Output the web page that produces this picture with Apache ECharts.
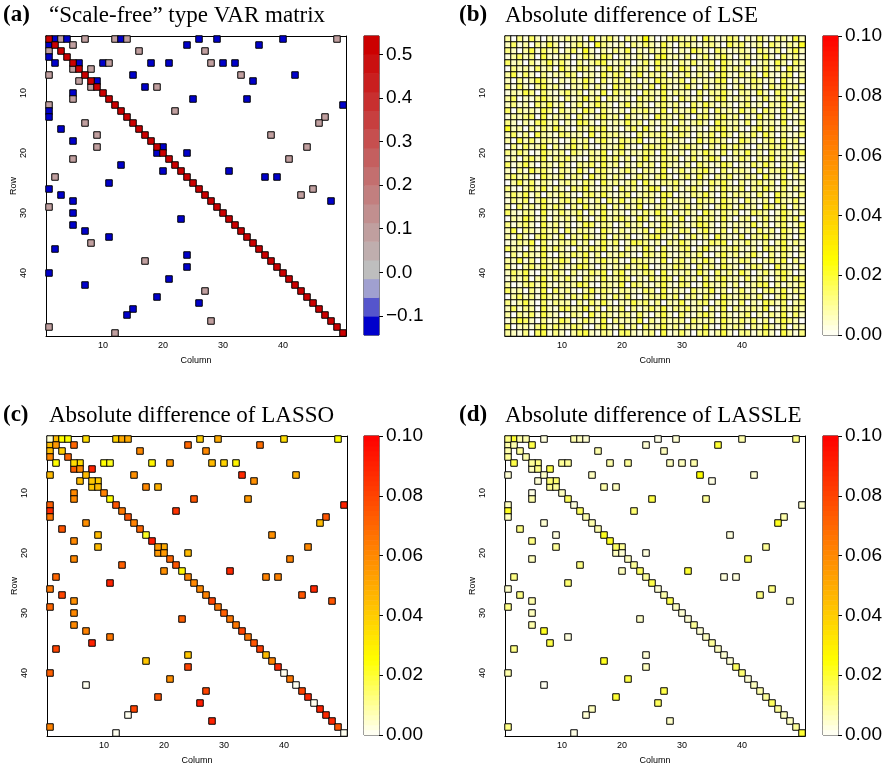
<!DOCTYPE html>
<html>
<head>
<meta charset="utf-8">
<script src="https://cdn.jsdelivr.net/npm/echarts@6/dist/echarts.min.js"></script>
<style>
  html, body { margin: 0; padding: 0; background: #fff; }
  #chart { width: 890px; height: 772px; }
</style>
</head>
<body>
<div id="chart"></div>
<script>
// matrix indices 1..50 (rows and columns)
const cells = Array.from({ length: 50 }, (_, i) => String(i + 1));
const tickAt = [10, 20, 30, 40, 50];
const labelAt = [10, 20, 30, 40];
const sfTicks = [-0.1, 0, 0.1, 0.2, 0.3, 0.4, 0.5];
const heatTicks = [0, 0.02, 0.04, 0.06, 0.08, 0.1];

// off-diagonal non-zero entries of the VAR matrix (row, column)
const offRow = [1,1,1,1,1,1,1,1,1,1,1, 2,2,2,2, 3,3,3, 4, 5,5,5,5,5,5,5,5,5, 6,6, 7,7,7,7, 8,8,8, 9,9,9, 10,
  11,11,11, 12,12, 13,13, 14,14, 15,15, 16, 17,17, 18, 19,19,19, 20,20, 21,21, 22, 23,23, 24,24,24, 25,
  26,26, 27,27, 28,28, 29,30,31,32,33,34,35,36,37,38,39,40,41,42,43,44,45,46,47,48,49,50];
const offCol = [2,3,4,7,12,13,14,26,29,40,49, 1,5,24,36, 1,16,27, 1, 2,6,10,11,18,21,28,30,32, 5,8, 1,15,33,42, 6,9,35, 8,17,19, 5,
  5,25,34, 1,50, 1,22, 1,47, 7,46, 3, 9,38, 5, 9,20,44, 19,24, 5,41, 13, 20,31, 2,37,39, 11,
  1,45, 3,43, 5,48, 1,5,23,5,7,11,8,2,24,17,24,1,21,7,27,19,26,15,14,28,1,12];

const sfOff = [-0.12,0.09,-0.12,0.09,0.09,-0.12,0.09,-0.12,-0.12,-0.12,0.09, -0.12,0.09,-0.12,-0.12, 0.09,0.09,0.09, -0.12,
  -0.12,-0.12,-0.12,0.09,-0.12,-0.12,0.09,-0.12,-0.12, 0.09,0.09, 0.09,-0.12,0.09,-0.12, 0.09,-0.12,-0.12, 0.09,-0.12,0.09, -0.12,
  0.09,-0.12,-0.12, 0.09,-0.12, -0.12,0.09, -0.12,0.09, 0.09,0.09, -0.12, 0.09,0.09, -0.12, 0.09,-0.12,0.09, -0.12,-0.12, 0.09,0.09, -0.12,
  -0.12,-0.12, 0.09,-0.12,-0.12, -0.12, -0.12,0.09, -0.12,0.09, -0.12,-0.12,
  0.09,-0.12,-0.12,-0.12,-0.12,-0.12,0.09,-0.12,-0.12,0.09,-0.12,-0.12,-0.12,-0.12,0.09,-0.12,-0.12,-0.12,-0.12,0.09,0.09,0.09];
const lassoOff = [0.045,0.025,0.025,0.035,0.038,0.05,0.05,0.04,0.05,0.035,0.025, 0.045,0.07,0.07,0.068, 0.045,0.06,0.06, 0.06,
  0.025,0.035,0.025,0.022,0.028,0.055,0.045,0.038,0.028, 0.072,0.09, 0.045,0.058,0.088,0.048, 0.045,0.04,0.058, 0.042,0.06,0.048, 0.06,
  0.06,0.075,0.055, 0.072,0.09, 0.088,0.085, 0.065,0.075, 0.058,0.045, 0.075, 0.045,0.058, 0.06, 0.045,0.05,0.06, 0.055,0.045, 0.06,0.062, 0.072,
  0.058,0.088, 0.07,0.062,0.062, 0.09, 0.065,0.088, 0.08,0.075, 0.058,0.075,
  0.07,0.06,0.072,0.06,0.062,0.065,0.09,0.08,0.042,0.042,0.08,0.072,0.058,0.001,0.08,0.075,0.092,0.08,0.001,0.09,0.062,0.001];
const lassleOff = [0.02,0.008,0.008,0.003,0.008,0.006,0.004,0.002,0.004,0.008,0.012, 0.008,0.018,0.004,0.02, 0.008,0.008,0.006, 0.01,
  0.018,0.012,0.01,0.01,0.008,0.01,0.006,0.006,0.008, 0.006,0.018, 0.004,0.006,0.025,0.004, 0.004,0.014,0.002, 0.01,0.008,0.006, 0.002,
  0.008,0.018,0.01, 0.006,0.005, 0.022,0.014, 0.006,0.008, 0.004,0.022, 0.012, 0.003,0.003, 0.012, 0.01,0.01,0.01, 0.006,0.003, 0.006,0.016, 0.012,
  0.006,0.02, 0.012,0.003,0.003, 0.014, 0.005,0.012, 0.012,0.012, 0.008,0.006,
  0.012,0.006,0.005,0.008,0.022,0.003,0.018,0.012,0.004,0.022,0.006,0.008,0.018,0.001,0.018,0.02,0.016,0.006,0.004,0.005,0.012,0.002];

// diagonal entries 1..50
const sfDiag = [0.52,0.52,0.52,0.52,0.52,0.52,0.52,0.52,0.52,0.52, 0.52,0.52,0.52,0.52,0.52,0.52,0.52,0.52,0.52,0.52,
  0.52,0.52,0.52,0.52,0.52,0.52,0.52,0.52,0.52,0.52, 0.52,0.52,0.52,0.52,0.52,0.52,0.52,0.52,0.52,0.52,
  0.52,0.52,0.52,0.52,0.52,0.52,0.52,0.52,0.52,0.52];
const lassoDiag = [0.004,0.055,0.04,0.07,0.035,0.06,0.045,0.042,0.045,0.062, 0.025,0.075,0.065,0.075,0.062,0.07,0.022,0.092,0.055,0.055,
  0.07,0.075,0.028,0.06,0.06,0.06,0.062,0.08,0.065,0.072, 0.065,0.065,0.08,0.065,0.075,0.082,0.045,0.062,0.088,0.001,
  0.065,0.001,0.08,0.088,0.001,0.09,0.088,0.088,0.075,0.001];
const lassleDiag = [0.012,0.008,0.01,0.008,0.01,0.012,0.005,0.014,0.01,0.006, 0.016,0.003,0.016,0.008,0.008,0.008,0.022,0.022,0.016,0.004,
  0.006,0.01,0.016,0.01,0.018,0.004,0.008,0.018,0.006,0.004, 0.004,0.01,0.004,0.006,0.01,0.006,0.004,0.004,0.016,0.014,
  0.004,0.006,0.008,0.01,0.016,0.01,0.006,0.006,0.01,0.02];

// LSE absolute differences, one string per row, digit d -> d * 0.003
const lseRows = [
  "30415203124230613520413820145324063125403152043162",
  "25130426301352074213042531620452134206351240531427",
  "42036152403517203142603142520316420531242053140362",
  "13524062134025316402314205723140251362034136205241",
  "52304136252041356123402516320425134063125024163053",
  "04231524063154203625124305231640325162430325140632",
  "36152041325402316254036142503251420362153406214503",
  "20413652031426305142520316432504132560312541306214",
  "41520362410325142063324150621362051340251430526340",
  "13264052135240316052410532614320514362043162054213",
  "35021463204136250431205341620531402561324025136051",
  "24130536240251364203614203524105263142035130426314",
  "50423164052316405213043521604236140523162405316042",
  "13245061324052136240521306431520451362403162405213",
  "42031562403165204132624031520413520642315042316025",
  "72304152631042536120351620425341203562410362514203",
  "25140632154230615342105243612530425163042516304125",
  "30625143201524036215436012543201625430164203516240",
  "04152360413625104236210453621453204162531042536132",
  "42530163240531426035132540621304263150426130524316",
  "13045261435210436251403621534025136401253042615203",
  "51362043152043516240315240632140531264021526304251",
  "20416352043162045213520431602513462051342051436240",
  "35241063251430625142025314620351620435124306215034",
  "03625142034215306241350621435202415362041352406213",
  "41035261420536214305241365024135204163250426315142",
  "25361403253104526213502431650214362051433152064215",
  "14250362145263140526135240613420534163205214063251",
  "30524162530416235041426013521351420364152306415042",
  "52143061252350416132031526405242063152401543026314",
  "03264150324152036245316402531602534162034025136250",
  "41352062413026514302524031642313652041322614035126",
  "26043152405143206314132504621540362150413152406315",
  "31520463150426315042401356214025140632150436215204",
  "12436051243514026250265413042631025460325214036142",
  "53204162531042536130421630512450362143521305426314",
  "04153261042536140325310542621342510362413620415203",
  "32614052364025136241054321603514263051254103526041",
  "41035263141365204132524601325430524163202541063215",
  "25361042530412536046132540613241630524163025146302",
  "14250361425204316235403152640523051462315142036254",
  "30145262132365104326054213621540163251402356041325",
  "52304160524103625314321540613205236140251304526143",
  "03524163241526304152510243625034152063244251036215",
  "41362051433041526203263514032612450362150316425034",
  "25143062155236140425041352614352304160423426015243",
  "30425163201430625314415203620521463052135031426152",
  "13652041264025316042326041523405324163252514036420",
  "50231462532541036215140523624143261052430426315032",
  "32140561420356214305521340612520451362044135206314"
];

const sfBreaksLo = -0.1437, sfBreaksHi = 0.542;
const sfColors = ['#0000cc', '#5555cc', '#a0a0d0', '#bebebe', '#bfaeae', '#c09f9f', '#c18f8f', '#c27f7f',
  '#c36f6f', '#c45f5f', '#c64f4f', '#c73f3f', '#c82f2f', '#c91f1f', '#ca1010', '#cc0000'];
const heatColors = ['#fffffa', '#ffff80', '#ffff00', '#ffd500', '#ffaa00', '#ff8000', '#ff5500', '#ff2a00', '#ff0000'];

const chart = echarts.init(document.getElementById('chart'));

function matrixData(offVals, diagVals) {
  const out = [];
  for (let i = 0; i < offRow.length; i++) out.push([offCol[i] - 1, offRow[i] - 1, offVals[i]]);
  for (let i = 0; i < diagVals.length; i++) out.push([i, i, diagVals[i]]);
  return out;
}
const lseData = [];
lseRows.forEach((s, r) => {
  for (let c = 0; c < s.length; c++) lseData.push([c, r, Number(s[c]) * 0.003]);
});

const small = { fontFamily: 'Liberation Sans', fontSize: 9, color: '#000' };
const grids = [], xAxes = [], yAxes = [], series = [];
const plotPos = [[46, 36], [505, 36], [47, 436], [505, 436]];
const barPos = [[364, 36], [823, 36], [364, 436], [823, 436]];

plotPos.forEach(([l, t], g) => {
  grids.push({ left: l, top: t, width: 300, height: 300 });
  const tick = { alignWithLabel: true, length: 4, interval: (i) => tickAt.includes(i + 1), lineStyle: { color: '#000' } };
  const line = { lineStyle: { color: '#000', width: 1 } };
  xAxes.push({ gridIndex: g, type: 'category', data: cells, position: 'bottom', axisLine: line, axisTick: tick,
    axisLabel: Object.assign({ interval: (i) => labelAt.includes(i + 1), margin: 5 }, small),
    name: 'Column', nameLocation: 'middle', nameGap: 20, nameTextStyle: small, splitLine: { show: false } });
  xAxes.push({ gridIndex: g, type: 'category', data: cells, position: 'top', axisLine: line, axisTick: tick,
    axisLabel: { show: false }, splitLine: { show: false } });
  yAxes.push({ gridIndex: g, type: 'category', data: cells, inverse: true, position: 'left', axisLine: line, axisTick: tick,
    axisLabel: Object.assign({ interval: (i) => labelAt.includes(i + 1), margin: 18, rotate: 90 }, small),
    name: 'Row', nameLocation: 'middle', nameGap: 28, nameRotate: 90, nameTextStyle: small, splitLine: { show: false } });
  yAxes.push({ gridIndex: g, type: 'category', data: cells, inverse: true, position: 'right', axisLine: line, axisTick: tick,
    axisLabel: { show: false }, splitLine: { show: false } });
});

const plotData = [matrixData(sfOff, sfDiag), lseData, matrixData(lassoOff, lassoDiag), matrixData(lassleOff, lassleDiag)];
plotData.forEach((d, g) => {
  series.push({ type: 'heatmap', xAxisIndex: 2 * g, yAxisIndex: 2 * g, data: d,
    itemStyle: { borderColor: '#000', borderWidth: 1 }, emphasis: { disabled: true } });
});

// colour keys
const sfStep = (sfBreaksHi - sfBreaksLo) / sfColors.length;
barPos.forEach(([l, t], k) => {
  const g = 4 + k;
  const isSf = k === 0;
  const n = isSf ? sfColors.length : 60;
  const lo = isSf ? sfBreaksLo : 0, hi = isSf ? sfBreaksHi : 0.1;
  const bands = Array.from({ length: n }, (_, i) => String(i));
  grids.push({ left: l, top: t, width: 15, height: 299, show: true, borderColor: '#000', borderWidth: 1, backgroundColor: 'transparent' });
  xAxes.push({ gridIndex: g, type: 'category', data: ['k'], show: false });
  yAxes.push({ gridIndex: g, type: 'category', data: bands, show: false });
  const ticks = isSf ? sfTicks : heatTicks;
  yAxes.push({ gridIndex: g, type: 'value', position: 'right', min: lo, max: hi,
    axisLine: { show: false }, splitLine: { show: false },
    axisTick: { show: true, customValues: ticks, length: 4, lineStyle: { color: '#000' } },
    axisLabel: { customValues: ticks, margin: 7, fontFamily: 'Liberation Sans', fontSize: 19, color: '#000',
      formatter: (v) => isSf ? (v < -1e-9 ? '\u2212' + Math.abs(v).toFixed(1) : Math.abs(v).toFixed(1)) : v.toFixed(2) } });
  const step = (hi - lo) / n;
  series.push({ type: 'heatmap', xAxisIndex: 8 + k, yAxisIndex: 8 + 2 * k,
    data: bands.map((b, i) => [0, i, lo + step * (i + 0.5)]), emphasis: { disabled: true } });
});

const serif = { fontFamily: 'Liberation Serif', fontSize: 23, color: '#000' };
const titles = [
  ['(a)', '\u201cScale-free\u201d type VAR matrix', 3, 49, 4],
  ['(b)', 'Absolute difference of LSE', 459, 505, 4],
  ['(c)', 'Absolute difference of LASSO', 3, 49, 404],
  ['(d)', 'Absolute difference of LASSLE', 459, 505, 404]
];
const title = [];
titles.forEach(([tag, text, x1, x2, y]) => {
  title.push({ text: tag, left: x1, top: y, padding: 0, textStyle: Object.assign({ fontWeight: 'bold' }, serif) });
  title.push({ text: text, left: x2, top: y, padding: 0, textStyle: Object.assign({ fontWeight: 'normal' }, serif) });
});

const option = {
  animation: false,
  backgroundColor: '#fff',
  title: title,
  grid: grids,
  xAxis: xAxes,
  yAxis: yAxes,
  visualMap: [
    { type: 'piecewise', show: false, seriesIndex: [0, 4],
      pieces: sfColors.map((c, i) => ({ gte: sfBreaksLo + sfStep * i, lt: sfBreaksLo + sfStep * (i + 1), color: c })) },
    { type: 'continuous', show: false, seriesIndex: [1, 2, 3, 5, 6, 7], min: 0, max: 0.1, inRange: { color: heatColors } }
  ],
  series: series
};
chart.setOption(option);
</script>
</body>
</html>
